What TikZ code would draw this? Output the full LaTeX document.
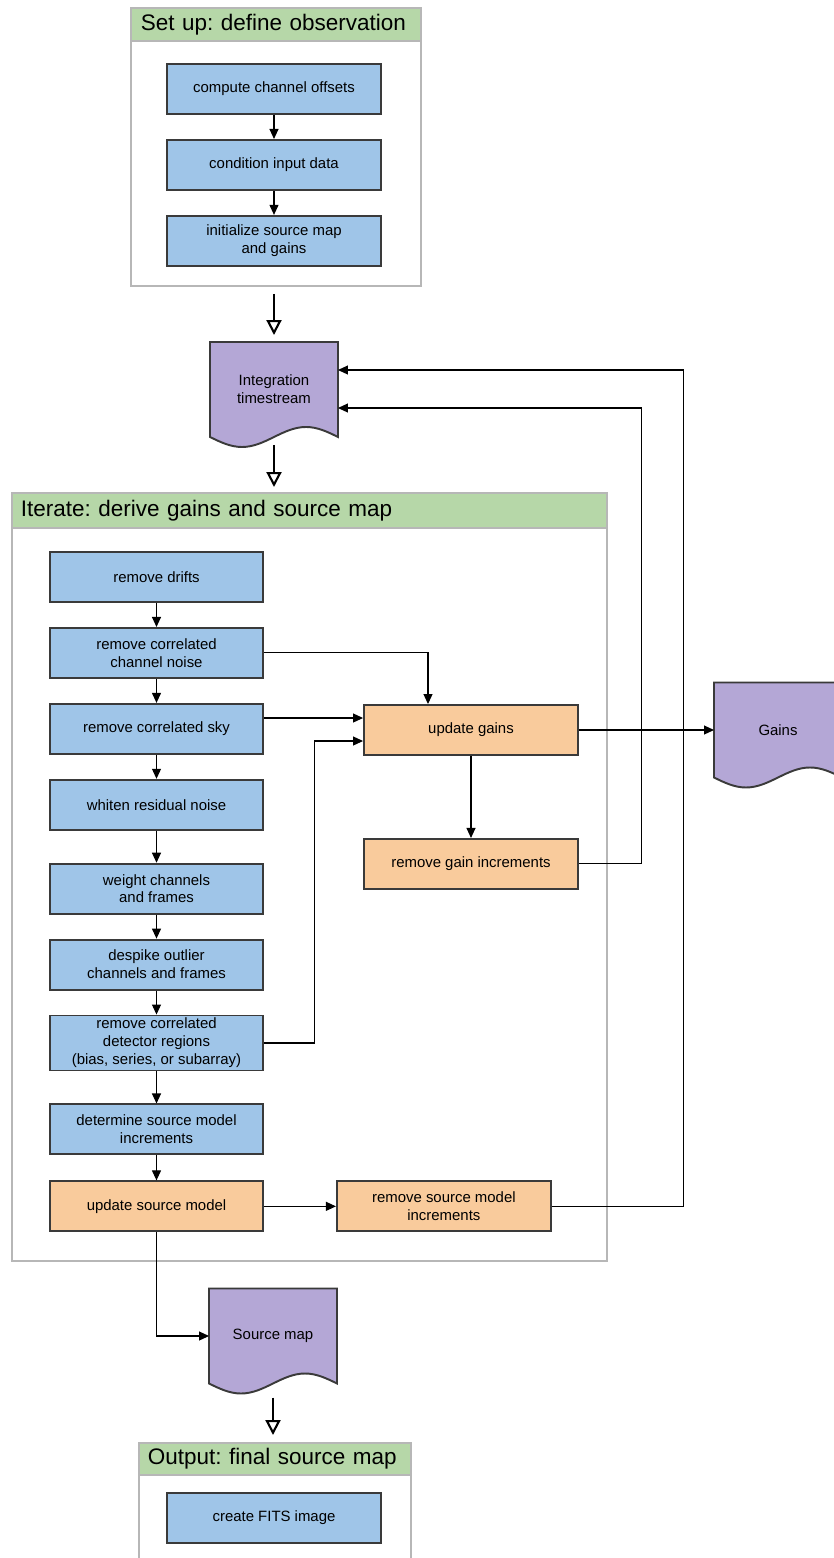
\documentclass[tikz,border=0pt]{standalone}
\usepackage{fontspec}
\setmainfont{Liberation Sans}
\frenchspacing
\usepackage{tikz}
\usetikzlibrary{arrows.meta,positioning,calc,backgrounds}
\definecolor{procblue}{HTML}{9FC5E8}
\definecolor{procorange}{HTML}{F9CB9C}
\definecolor{docpurple}{HTML}{B4A7D6}
\definecolor{headgreen}{HTML}{B6D7A8}
\definecolor{panelgray}{HTML}{B7B7B7}
\definecolor{edgeC}{HTML}{3A3A3A}
\tikzset{
  proc/.style={rectangle, draw=edgeC, line width=1.1pt, fill=#1, align=center,
               font=\fontsize{8.5}{10.2}\selectfont, minimum width=4.28cm, minimum height=1cm, inner sep=2pt},
  docbox/.style={rectangle, align=center, font=\fontsize{8.5}{10.2}\selectfont,
                 minimum width=2.56cm, minimum height=1.9cm, inner sep=2pt, outer sep=0pt},
  docline/.style={draw=edgeC, line width=1.1pt, fill=docpurple},
  panel/.style={rectangle, draw=panelgray, line width=1.1pt, fill=white, anchor=north west, inner sep=0pt},
  panelhead/.style={rectangle, draw=panelgray, line width=1.1pt, fill=headgreen, anchor=north west,
                    align=left, font=\fontsize{12.8}{15}\selectfont, inner xsep=#1, inner ysep=0pt},
  arr/.style={-{Triangle[length=0.2cm, width=0.18cm]}, line width=0.6pt, draw=black},
  bigarr/.style={-{Triangle[open, length=0.3cm, width=0.3cm]}, line width=1.2pt, draw=black},
}

\begin{document}
\begin{tikzpicture}[x=0.02cm, y=-0.02cm, node distance=0.48cm]
  \useasboundingbox (0,0) rectangle (834,1558);
  \clip (0,0) rectangle (834,1558);

  % containers
  \node[panel, minimum width=5.8cm, minimum height=5.56cm] (setup) at (130,7) {};
  \node[panelhead=0.2cm, text width=5.4cm, minimum height=0.66cm] (setuphead) at (130,7)
    {Set up: define observation};
  \node[panel, minimum width=11.9cm, minimum height=15.36cm] (iter) at (11,492) {};
  \node[panelhead=0.18cm, text width=11.54cm, minimum height=0.7cm] (iterhead) at (11,492)
    {Iterate: derive gains and source map};
  \node[panel, minimum width=5.44cm, minimum height=2.56cm] (output) at (138,1442) {};
  \node[panelhead=0.18cm, text width=5.08cm, minimum height=0.64cm] (outputhead) at (138,1442)
    {Output: final source map};

  % set up
  \node[proc=procblue] (offsets) at (274,89) {compute channel offsets};
  \node[proc=procblue, below=of offsets] (condition) {condition input data};
  \node[proc=procblue, below=of condition] (initmap) {initialize source map\\and gains};

  % data products
  \node[docbox] (integ) at (274,389.5) {Integration\\timestream};
  \node[docbox] (gains) at (778,730) {Gains};
  \node[docbox] (smap) at (273,1336) {Source map};

  % iterate, left column
  \node[proc=procblue, minimum width=4.26cm] (rd) at (156.5,577) {remove drifts};
  \node[proc=procblue, minimum width=4.26cm, below=of rd] (rcn) {remove correlated\\channel noise};
  \node[proc=procblue, minimum width=4.26cm, below=of rcn] (rcs) {remove correlated sky};
  \node[proc=procblue, minimum width=4.26cm, below=of rcs] (wrn) {whiten residual noise};
  \node[proc=procblue, minimum width=4.26cm, below=0.64cm of wrn] (wcf) {weight channels\\and frames};
  \node[proc=procblue, minimum width=4.26cm, below=of wcf] (dof) {despike outlier\\channels and frames};
  \node[proc=procblue, minimum width=4.26cm, minimum height=1.1cm, inner ysep=1pt, below=of dof] (rcd)
    {remove correlated\\detector regions\\(bias, series, or subarray)};
  \node[proc=procblue, minimum width=4.26cm, below=0.64cm of rcd] (dsm) {determine source model\\increments};
  \node[proc=procorange, minimum width=4.26cm, below=0.5cm of dsm] (usm) {update source model};

  % iterate, right column
  \node[proc=procorange] (ug) at (471,730) {update gains};
  \node[proc=procorange, below=1.64cm of ug] (rgi) {remove gain increments};
  \node[proc=procorange, right=1.44cm of usm] (rsm) {remove source model\\increments};

  % output
  \node[proc=procblue] (fits) at (274,1518) {create FITS image};

  % connectors
  \draw[arr] (offsets) -- (condition);
  \draw[arr] (condition) -- (initmap);
  \foreach \a/\b in {rd/rcn, rcn/rcs, rcs/wrn, wrn/wcf, wcf/dof, dof/rcd, rcd/dsm, dsm/usm}
    \draw[arr] (\a) -- (\b);
  \draw[arr] (rcn.east) -| ($(ug.north)+(-43,0)$);
  \draw[arr] ($(rcs.east |- ug.west)+(0,-12)$) -- ($(ug.west)+(0,-12)$);
  \draw[arr] (rcd.east) -- ++(51,0) |- ($(ug.west)+(0,11)$);
  \draw[arr] (ug) -- (rgi);
  \draw[arr] (ug.east) -- (gains.west);
  \draw[arr] (rgi.east) -- ++(63,0) |- ($(integ.east)+(0,18.5)$);
  \draw[arr] (rsm.east) -- ++(132,0) |- ($(integ.east)+(0,-19.5)$);
  \draw[arr] (usm) -- (rsm);
  \draw[arr] (usm.south) |- (smap.west);

  \draw[bigarr, shorten <=0.14cm, shorten >=0.14cm] (setup.south -| integ.north) -- (integ.north);
  \draw[bigarr, shorten <=0.16cm, shorten >=0.1cm] (integ.south) -- (integ.south |- iter.north);
  \draw[bigarr, shorten <=0.28cm, shorten >=0.14cm] (smap.south) -- (smap.south |- output.north);

  % wavy document outlines
  \begin{scope}[on background layer]
    \clip (0,0) rectangle (834,1558);
    \foreach \d in {integ, gains, smap}
      \draw[docline] (\d.north west) -- (\d.south west) sin ++(32,10) cos ++(32,-10)
        sin ++(32,-10) cos ++(32,10) -- (\d.north east) -- cycle;
  \end{scope}
\end{tikzpicture}
\end{document}
